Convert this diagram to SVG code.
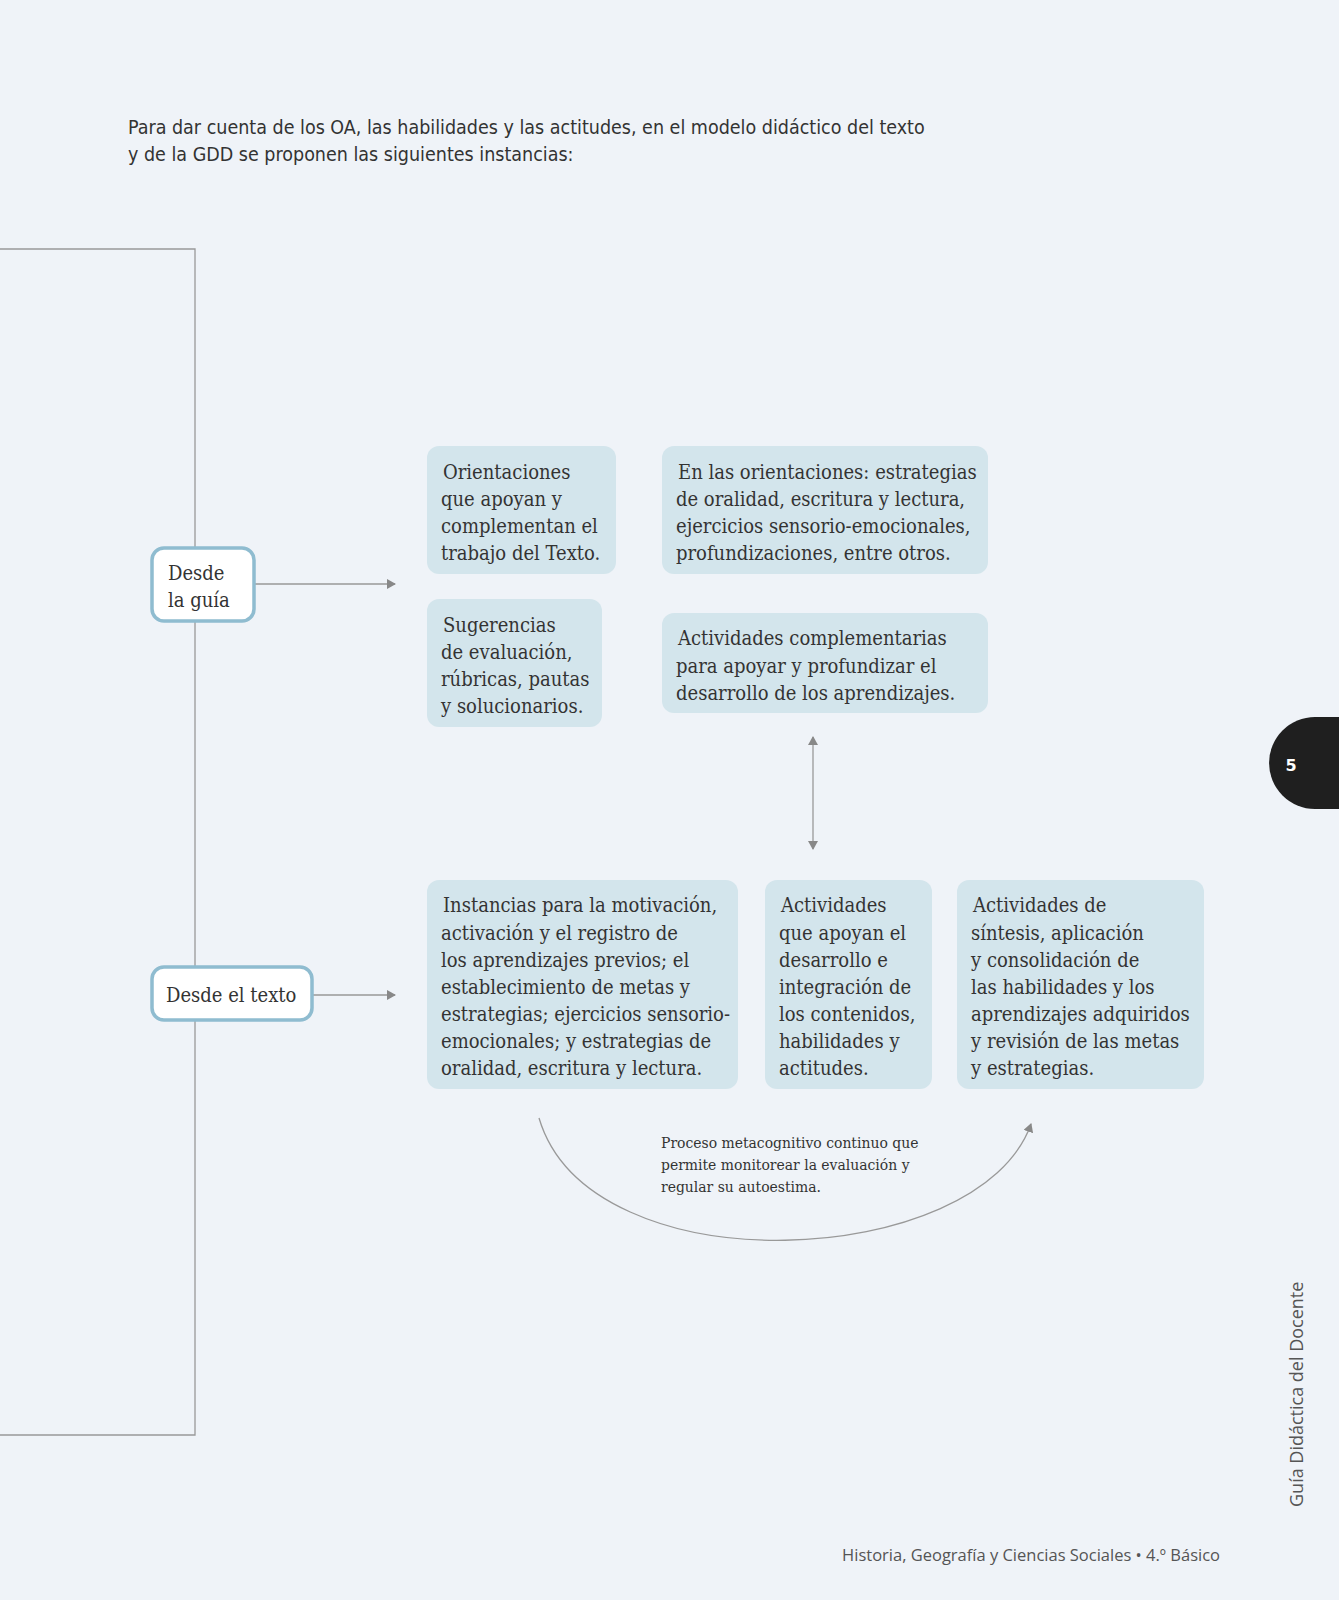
<svg xmlns="http://www.w3.org/2000/svg" width="1339" height="1600" viewBox="0 0 1339 1600">
<style>
.t{font-family:"DejaVu Serif Condensed","DejaVu Serif",serif;font-size:20px;fill:#333}
.h{font-family:"DejaVu Sans Condensed","DejaVu Sans",sans-serif;font-size:19.5px;fill:#333}
.box{fill:#d3e5ec}
.lbl{fill:#fff;stroke:#8fbcd0;stroke-width:3.5}
.ln{fill:none;stroke:#999;stroke-width:1.3}
</style>
<defs><marker id="a" markerWidth="10" markerHeight="10" refX="8" refY="5" orient="auto-start-reverse" markerUnits="userSpaceOnUse"><path d="M0,0 L9,5 L0,10 Z" fill="#888"/></marker></defs>
<rect width="1339" height="1600" fill="#eff3f8"/>
<text class="h"><tspan x="128" y="134">Para dar cuenta de los OA, las habilidades y las actitudes, en el modelo didáctico del texto</tspan><tspan x="128" y="161">y de la GDD se proponen las siguientes instancias:</tspan></text>
<g id="connectors">
<path class="ln" d="M0,249 H195 V1435 H0"/>
<line class="ln" x1="255" y1="584" x2="395" y2="584" marker-end="url(#a)"/>
<line class="ln" x1="313" y1="995" x2="395" y2="995" marker-end="url(#a)"/>
<line class="ln" x1="813" y1="737" x2="813" y2="849" marker-start="url(#a)" marker-end="url(#a)"/>
<path class="ln" d="M539,1118 C590,1290 980,1270 1031,1124" marker-end="url(#a)"/>
</g>
<g id="guia"><rect class="lbl" x="152" y="548" width="102" height="73" rx="12"/><text class="t"><tspan x="168" y="580">Desde</tspan><tspan x="168" y="607">la guía</tspan></text></g>
<g id="texto"><rect class="lbl" x="152" y="967" width="160" height="53" rx="12"/><text class="t" x="166" y="1002">Desde el texto</text></g>
<g id="b1"><rect class="box" x="427" y="446" width="189" height="128" rx="12"/><text class="t"><tspan x="443" y="479">Orientaciones</tspan><tspan x="441" y="506">que apoyan y</tspan><tspan x="441" y="533">complementan el</tspan><tspan x="441" y="560">trabajo del Texto.</tspan></text></g>
<g id="b2"><rect class="box" x="662" y="446" width="326" height="128" rx="12"/><text class="t"><tspan x="678" y="479">En las orientaciones: estrategias</tspan><tspan x="676" y="506">de oralidad, escritura y lectura,</tspan><tspan x="676" y="533">ejercicios sensorio-emocionales,</tspan><tspan x="676" y="560">profundizaciones, entre otros.</tspan></text></g>
<g id="b3"><rect class="box" x="427" y="599" width="175" height="128" rx="12"/><text class="t"><tspan x="443" y="632">Sugerencias</tspan><tspan x="441" y="659">de evaluación,</tspan><tspan x="441" y="686">rúbricas, pautas</tspan><tspan x="441" y="713">y solucionarios.</tspan></text></g>
<g id="b4"><rect class="box" x="662" y="613" width="326" height="100" rx="12"/><text class="t"><tspan x="678" y="645">Actividades complementarias</tspan><tspan x="676" y="673">para apoyar y profundizar el</tspan><tspan x="676" y="700">desarrollo de los aprendizajes.</tspan></text></g>
<g id="b5"><rect class="box" x="427" y="880" width="311" height="209" rx="12"/><text class="t"><tspan x="443" y="912">Instancias para la motivación,</tspan><tspan x="441" y="940">activación y el registro de</tspan><tspan x="441" y="967">los aprendizajes previos; el</tspan><tspan x="441" y="994">establecimiento de metas y</tspan><tspan x="441" y="1021">estrategias; ejercicios sensorio-</tspan><tspan x="441" y="1048">emocionales; y estrategias de</tspan><tspan x="441" y="1075">oralidad, escritura y lectura.</tspan></text></g>
<g id="b6"><rect class="box" x="765" y="880" width="167" height="209" rx="12"/><text class="t"><tspan x="781" y="912">Actividades</tspan><tspan x="779" y="940">que apoyan el</tspan><tspan x="779" y="967">desarrollo e</tspan><tspan x="779" y="994">integración de</tspan><tspan x="779" y="1021">los contenidos,</tspan><tspan x="779" y="1048">habilidades y</tspan><tspan x="779" y="1075">actitudes.</tspan></text></g>
<g id="b7"><rect class="box" x="957" y="880" width="247" height="209" rx="12"/><text class="t"><tspan x="973" y="912">Actividades de</tspan><tspan x="971" y="940">síntesis, aplicación</tspan><tspan x="971" y="967">y consolidación de</tspan><tspan x="971" y="994">las habilidades y los</tspan><tspan x="971" y="1021">aprendizajes adquiridos</tspan><tspan x="971" y="1048">y revisión de las metas</tspan><tspan x="971" y="1075">y estrategias.</tspan></text></g>
<text class="t" style="font-size:15.5px"><tspan x="661" y="1148">Proceso metacognitivo continuo que</tspan><tspan x="661" y="1170">permite monitorear la evaluación y</tspan><tspan x="661" y="1192">regular su autoestima.</tspan></text>
<path d="M1339,717 H1315 A46,46 0 0 0 1315,809 H1339 Z" fill="#1f1f1f"/>
<text x="1291" y="771" font-family="DejaVu Sans,sans-serif" font-weight="bold" font-size="16" fill="#fff" text-anchor="middle">5</text>
<text transform="translate(1303,1507) rotate(-90)" font-family="Open Sans,sans-serif" font-size="18" fill="#555">Guía Didáctica del Docente</text>
<text x="1220" y="1561" text-anchor="end" font-family="Open Sans,sans-serif" font-size="16.5" fill="#555">Historia, Geografía y Ciencias Sociales • 4.º Básico</text>
</svg>
